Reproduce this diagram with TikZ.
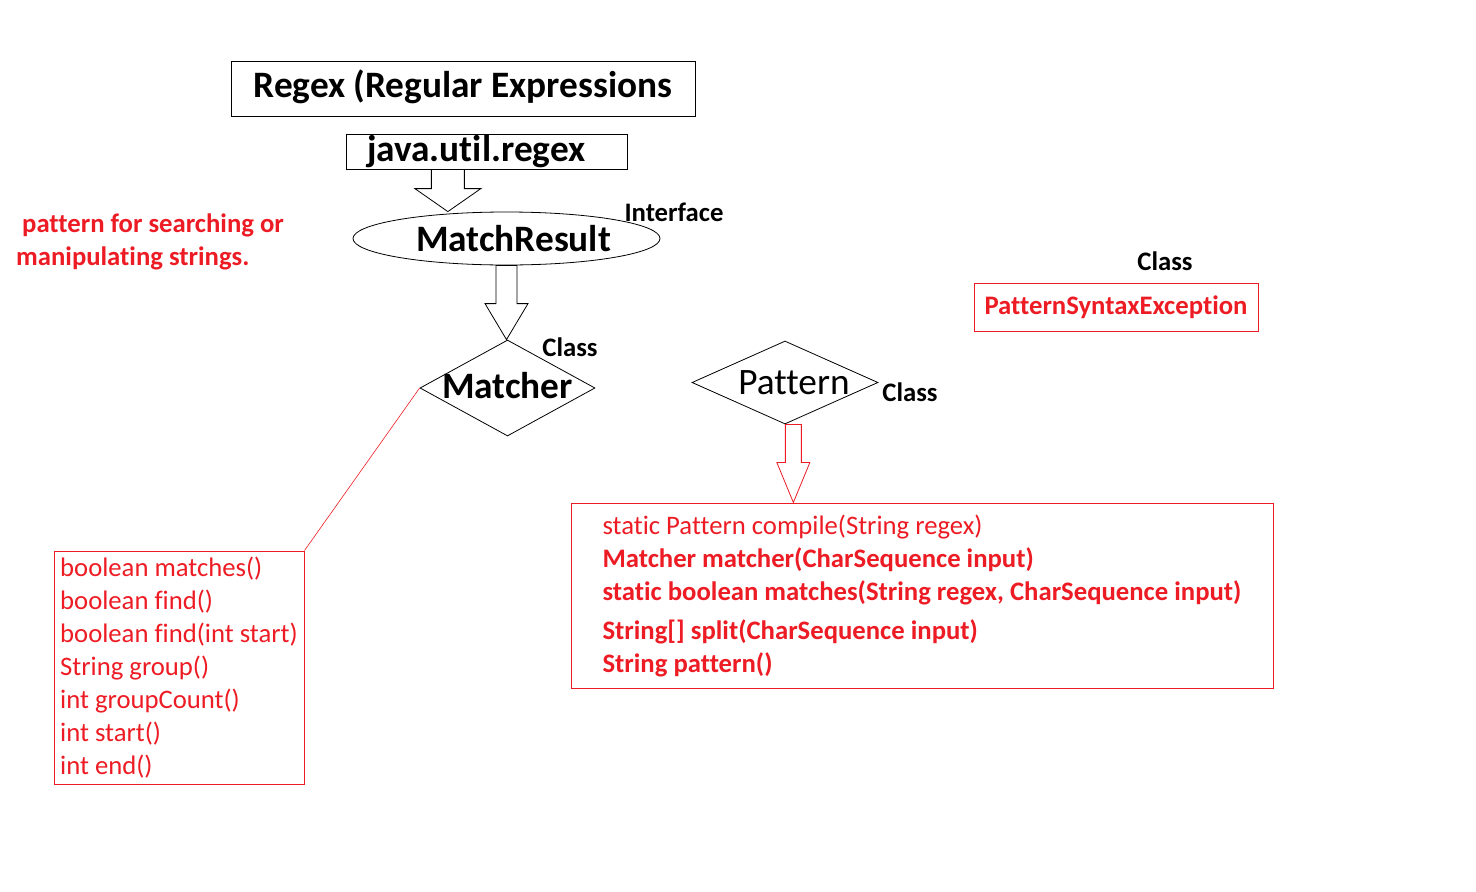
\documentclass[tikz,border=0pt]{standalone}
\usepackage{fontspec}
\setmainfont{Carlito}[Ligatures={NoCommon}]
\usepackage{xcolor}
\usetikzlibrary{calc,shapes.geometric}
\definecolor{paintred}{RGB}{237,28,36}
\newcommand{\hollowarrow}[6]{%
  \draw[#1] let \p1=(#2), \p2=(#3) in
    (\x1-#4,\y1) -- (\x1-#4,\y2+#6) -- (\x1-#5,\y2+#6) -- (\x1,\y2)
    -- (\x1+#5,\y2+#6) -- (\x1+#4,\y2+#6) -- (\x1+#4,\y1) -- cycle;}
\tikzset{
  bigtext/.style={font=\fontsize{37.3}{44}\selectfont\bfseries},
  bigplain/.style={font=\fontsize{37.3}{44}\selectfont},
  smalltext/.style={font=\fontsize{26.7}{33}\selectfont},
  tag/.style={font=\fontsize{26.7}{33}\selectfont\bfseries},
  outlinebox/.style={draw, line width=1pt, inner sep=0pt},
  redbox/.style={draw=paintred, line width=1pt, text=paintred, inner sep=0pt},
  classdiamond/.style={draw, diamond, line width=0.8pt, inner sep=0pt},
  blockflow/.style={draw, fill=white, line width=0.8pt},
  redflow/.style={draw=paintred, fill=white, line width=0.8pt},
  link/.style={draw=paintred, line width=0.6pt}
}
\begin{document}
\begin{tikzpicture}[x=1pt, y=-1pt]
\useasboundingbox (0,0) rectangle (1476,892);
\node[outlinebox, minimum width=464pt, minimum height=55pt, label={[bigtext, yshift=2pt]center:Regex (Regular Expressions}] (title) at (463,88.5) {};
\node[outlinebox, bigtext, minimum width=281pt, minimum height=35pt, text width=239pt, align=left] (java) at (486.5,151.5) {java.util.regex};
\node[draw, ellipse, line width=0.8pt, inner sep=0pt, minimum width=307pt, minimum height=53pt, label={[bigtext, xshift=7pt]center:MatchResult}] (mr) at (506.5,238.5) {};
\node[tag] (mrkind) at (674,212) {Interface};
\node[classdiamond, minimum width=175pt, minimum height=96pt, label={[bigtext, yshift=2pt]center:Matcher}] (matcher) at (507.5,388) {};
\node[tag] (matcherkind) at (570,347) {Class};
\node[classdiamond, minimum width=186pt, minimum height=83pt, label={[bigplain, xshift=9pt]center:Pattern}] (pattern) at (785,382.5) {};
\node[tag] (patternkind) at (910,392) {Class};
\node[redbox, tag, minimum width=284pt, minimum height=48pt] (pse) at (1116,307) {PatternSyntaxException};
\node[tag] (psekind) at (1165,261) {Class};
\node[tag, text=paintred, align=left, anchor=west, inner sep=0pt] (note) at (16,242) {\hspace*{6pt}pattern for searching or\\manipulating strings.};
\node[redbox, smalltext, minimum width=250pt, minimum height=233pt, align=left] (mmeth) at (179,667.5) {boolean matches()\\boolean find()\\boolean find(int start)\\String group()\\int groupCount()\\int start()\\int end()};
\node[redbox, smalltext, minimum width=702pt, minimum height=185pt, align=left] (pmeth) at (922,595.5) {static Pattern compile(String regex)\\\textbf{Matcher matcher(CharSequence input)}\\\textbf{static boolean matches(String regex, CharSequence input)}\\[6pt]\textbf{String[] split(CharSequence input)}\\\textbf{String pattern()}};

\coordinate (jtail) at ($(java.south west)!0.363!(java.south east)$);
\coordinate (ptip) at ($(pmeth.north west)!0.317!(pmeth.north east)$);
\hollowarrow{blockflow}{jtail}{jtail |- mr.north}{16.5pt}{33pt}{23pt}
\hollowarrow{blockflow}{mr.south}{matcher.north}{10.5pt}{21.5pt}{36pt}
\hollowarrow{redflow}{ptip |- pattern.south}{ptip}{8pt}{16.5pt}{40pt}
\draw[link] (mmeth.north east) -- (matcher.west);
\end{tikzpicture}
\end{document}
